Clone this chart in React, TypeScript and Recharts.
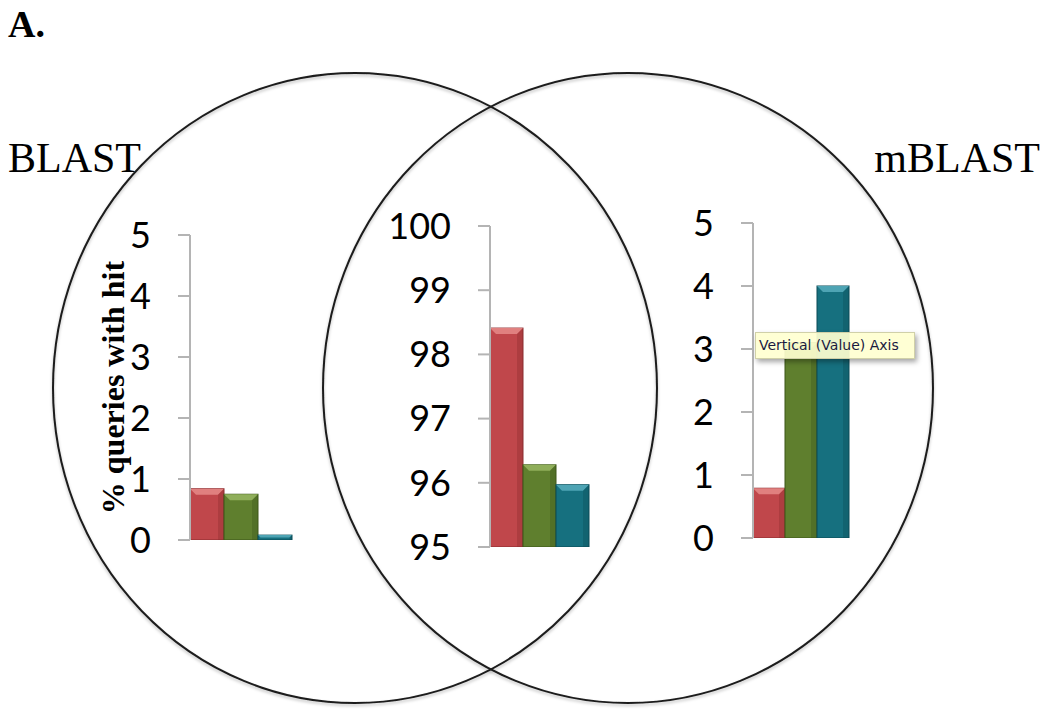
import { BarChart, Bar, XAxis, YAxis } from 'recharts';

// three regions of the Venn diagram, one small bar chart each
const regions = ['BLAST only', 'BLAST and mBLAST', 'mBLAST only'];
const redValues = [0.84, 98.41, 0.79];
const greenValues = [0.75, 96.28, 3.1];
const tealValues = [0.08, 95.97, 4.0];
const outerTicks = [0, 1, 2, 3, 4, 5];
const middleTicks = [95, 96, 97, 98, 99, 100];
const yLabel = '% queries with hit';

const AXIS_W = 130;

const panels = [
  { left: 60, top: 205, width: 243, height: 355, domain: [0, 5], ticks: outerTicks },
  { left: 360, top: 196, width: 238, height: 371, domain: [95, 100], ticks: middleTicks },
  { left: 623, top: 193, width: 236, height: 365, domain: [0, 5], ticks: outerTicks },
];

const series = [
  { key: 'red', fill: '#c0474b', light: '#e0807f', edge: '#8a2c2f' },
  { key: 'green', fill: '#5f7f2e', light: '#8fae5a', edge: '#3d5619' },
  { key: 'teal', fill: '#16707f', light: '#4ea4b4', edge: '#0b4b56' },
];

function BevelBar(props: any) {
  const { x, y, width, height, fill, light, edge } = props;
  if (!height || height <= 0) return null;
  const b = Math.min(6, height / 2, width / 4);
  return (
    <g>
      <rect x={x} y={y} width={width} height={height} fill={fill} stroke={edge} strokeWidth={1} />
      <polygon
        points={`${x},${y} ${x + width},${y} ${x + width - b},${y + b} ${x + b},${y + b}`}
        fill={light}
      />
      <polygon
        points={`${x + width},${y} ${x + width},${y + height} ${x + width - b},${y + height} ${x + width - b},${y + b}`}
        fill={edge}
        opacity={0.35}
      />
    </g>
  );
}

function Panel({ index }: { index: number }) {
  const p = panels[index];
  const data = [
    { region: regions[index], red: redValues[index], green: greenValues[index], teal: tealValues[index] },
  ];
  return (
    <div style={{ position: 'absolute', left: p.left, top: p.top }}>
      <BarChart
        width={p.width}
        height={p.height}
        data={data}
        margin={{ top: 30, right: 10, bottom: 20, left: 0 }}
        barCategoryGap={0}
        barGap={0}
      >
        <XAxis dataKey="region" hide />
        <YAxis
          width={AXIS_W}
          domain={p.domain}
          ticks={p.ticks}
          interval={0}
          allowDataOverflow
          tickSize={12}
          tickMargin={27}
          stroke="#b4b4b4"
          strokeWidth={2}
          tick={{ fontSize: 36, fill: '#000', fontFamily: 'Lato, sans-serif' }}
          label={
            index === 0
              ? {
                  value: yLabel,
                  angle: -90,
                  position: 'center',
                  dx: -12,
                  fontSize: 32,
                  fontWeight: 700,
                  fontFamily: '"Liberation Serif", serif',
                  fill: '#000',
                }
              : undefined
          }
        />
        {series.map(s => (
          <Bar
            key={s.key}
            dataKey={s.key}
            fill={s.fill}
            isAnimationActive={false}
            shape={(props: any) => <BevelBar {...props} light={s.light} edge={s.edge} />}
          />
        ))}
      </BarChart>
    </div>
  );
}

export default function App() {
  return (
    <div style={{ position: 'absolute', left: 0, top: 0, width: 1050, height: 713, background: '#fff' }}>
      <svg width={1050} height={713} style={{ position: 'absolute', left: 0, top: 0 }}>
        <defs>
          <filter id="soft" x="-10%" y="-10%" width="120%" height="120%">
            <feDropShadow dx="0" dy="2" stdDeviation="1.5" floodColor="#000" floodOpacity="0.25" />
          </filter>
        </defs>
        <ellipse cx={355} cy={388} rx={302} ry={315} fill="none" stroke="#1c1c1c" strokeWidth={2} filter="url(#soft)" />
        <ellipse cx={628} cy={388} rx={305} ry={315} fill="none" stroke="#1c1c1c" strokeWidth={2} filter="url(#soft)" />
        <text x={8} y={37} fontFamily='"Liberation Serif", serif' fontWeight={700} fontSize={38} fill="#000">
          A.
        </text>
        <text x={8} y={172} fontFamily='"Liberation Serif", serif' fontSize={42} fill="#000">
          BLAST
        </text>
        <text x={1040} y={172} textAnchor="end" fontFamily='"Liberation Serif", serif' fontSize={42} fill="#000">
          mBLAST
        </text>
      </svg>
      {panels.map((_, i) => (
        <Panel key={i} index={i} />
      ))}
      <div
        style={{
          position: 'absolute',
          left: 755,
          top: 332,
          width: 160,
          height: 27,
          boxSizing: 'border-box',
          background: 'rgba(255, 255, 208, 0.92)',
          border: '1px solid #d0d0a8',
          boxShadow: '2px 3px 5px rgba(0,0,0,0.35)',
          fontFamily: '"DejaVu Sans", sans-serif',
          fontSize: 14,
          lineHeight: '25px',
          paddingLeft: 3,
          color: '#1a1a40',
          whiteSpace: 'nowrap',
        }}
      >
        Vertical (Value) Axis
      </div>
    </div>
  );
}
